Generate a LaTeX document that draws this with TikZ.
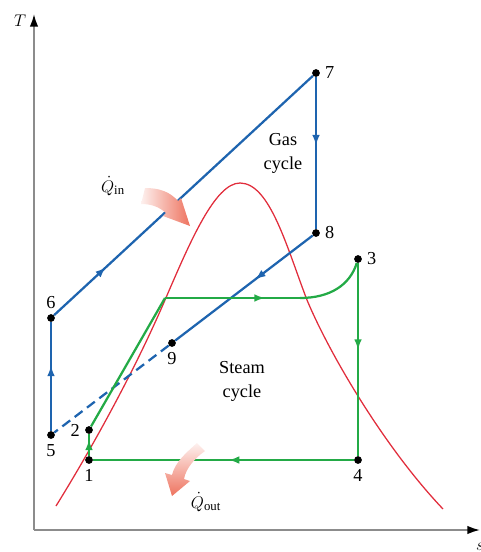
\documentclass[tikz,border=0pt]{standalone}
\usepackage{fontspec}
\setmainfont{Liberation Serif}
\usetikzlibrary{arrows.meta,decorations.markings}

\definecolor{gasblue}{RGB}{30,100,175}
\definecolor{steamgreen}{RGB}{35,170,70}
\definecolor{domered}{RGB}{225,45,60}
\definecolor{heatpink}{RGB}{238,115,95}
\definecolor{axisgray}{RGB}{140,140,140}

\tikzset{
  pt/.style={circle, fill=black, inner sep=0pt, minimum size=5.5pt},
  gas/.style={gasblue, line width=1.6pt},
  steam/.style={steamgreen, line width=1.6pt},
  axis/.style={axisgray, line width=1.2pt, -{Latex[length=9pt,width=6pt,color=black]}},
  midarrow/.style={postaction={decorate, decoration={markings,
      mark=at position #1 with {\arrow{Latex[length=7.5pt,width=5.5pt]}}}}},
  midarrow/.default=0.5,
}

\begin{document}
\begin{tikzpicture}[x=0.025cm, y=-0.025cm,
    every node/.style={font=\fontsize{13}{17}\selectfont}]
    \useasboundingbox (0,0) rectangle (480,552);

    % axes
    \coordinate (o) at (34,530);
    \coordinate (ttop) at (34,14);
    \coordinate (send) at (480,530);
    \draw[axis] (o) -- (ttop);
    \draw[axis] (o) -- (send);
    \node (tlbl) at (20,21) {$T$};
    \node (slbl) at (480,547) {$s$};

    % saturation dome
    \draw[domered, line width=0.9pt] (56,506)
      .. controls (92,448) and (135,370) .. (165,300)
      .. controls (190,242) and (215,183) .. (240,183)
      .. controls (270,183) and (287,248) .. (307,300)
      .. controls (330,355) and (385,448) .. (443,509);

    % state points
    \node[pt, label=below:1] (p1) at (89,460) {};
    \node[pt, label=left:2] (p2) at (89,430) {};
    \node[pt, label=right:3] (p3) at (358,259) {};
    \node[pt, label=below:4] (p4) at (358,460) {};
    \node[pt, label=below:5] (p5) at (51,435) {};
    \node[pt, label=above:6] (p6) at (51,318) {};
    \node[pt, label=right:7] (p7) at (316,73) {};
    \node[pt, label=right:8] (p8) at (316,233) {};
    \node[pt, label=below:9] (p9) at (172,343) {};
    \coordinate (knee) at (165,298);
    \coordinate (sat) at (300,298);

    % gas cycle
    \draw[gas, midarrow=0.6] (p5) -- (p6);
    \draw[gas, midarrow=0.2] (p6) -- (p7);
    \draw[gas, midarrow=0.45] (p7) -- (p8);
    \draw[gas, midarrow=0.42] (p8) -- (p9);
    \draw[gas, dash pattern=on 7pt off 4pt] (p9) -- (p5);

    % steam cycle
    \draw[steam, midarrow=0.75] (p1) -- (p2);
    \draw[steam] (p2) -- (knee);
    \draw[steam, midarrow=0.74] (knee) -- (sat);
    \draw[steam] (sat) .. controls (330,298) and (350,285) .. (p3);
    \draw[steam, midarrow=0.45] (p3) -- (p4);
    \draw[steam, midarrow=0.48] (p4) -- (p1);

    % heat flows
    \shade[left color=heatpink!10, right color=heatpink]
      (145,188) .. controls (160,188) and (170,192) .. (178,201) -- (181,198)
      -- (190,226) -- (163,216) -- (166,213)
      .. controls (158,206) and (150,204) .. (141,204) -- cycle;
    \shade[top color=heatpink!10, bottom color=heatpink]
      (197,443) .. controls (187,452) and (175,462) .. (172,475) -- (165,473)
      -- (172,496) -- (190,481) -- (184,479)
      .. controls (186,468) and (195,458) .. (205,451) -- cycle;
    \node (qin) at (113,186) {$\dot{Q}_{\mathrm{in}}$};
    \node (qout) at (206,502) {$\dot{Q}_{\mathrm{out}}$};

    % labels
    \node[align=center] (gaslbl) at (283,153) {Gas\\cycle};
    \node[align=center] (steamlbl) at (242,381) {Steam\\cycle};
\end{tikzpicture}
\end{document}
